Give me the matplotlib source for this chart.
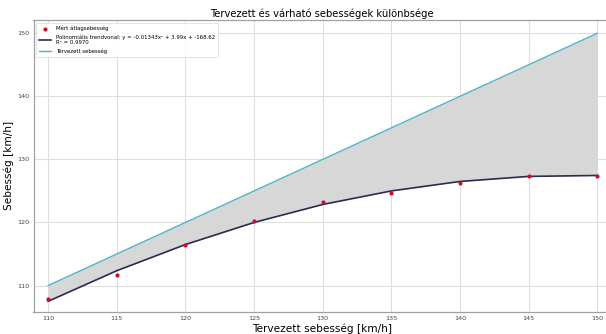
import matplotlib
matplotlib.use("Agg")
import matplotlib.pyplot as plt

planned = [110, 115, 120, 125, 130, 135, 140, 145, 150]
measured = [107.84, 111.6, 116.5, 120.25, 123.3, 124.6, 126.2, 127.3, 127.4]
trend = [107.5, 112.35, 116.5, 120.0, 122.85, 125.0, 126.5, 127.3, 127.45]
xticks = [110, 115, 120, 125, 130, 135, 140, 145, 150]
yticks = [110, 120, 130, 140, 150]

title = "Tervezett és várható sebességek különbsége"
xlabel = "Tervezett sebesség [km/h]"
ylabel = "Sebesség [km/h]"
lab_meas = "Mért átlagsebesség"
lab_trend = "Polinomiális trendvonal: y = -0.01343x² + 3.99x + -168.62\nR² = 0.9970"
lab_plan = "Tervezett sebesség"

fig = plt.figure(figsize=(6.06, 3.34), dpi=100)
ax = fig.add_axes([33.5 / 606, 1 - 311.5 / 334, (611 - 33.5) / 606, (311.5 - 20) / 334])

ax.fill_between(planned, trend, planned, color="#d7d7d7", zorder=1, linewidth=0)
ax.scatter(planned, measured, color="#c8102e", s=9, zorder=4, label=lab_meas, linewidths=0)
ax.plot(planned, trend, color="#2b2d4e", lw=1.2, zorder=3, label=lab_trend)
ax.plot(planned, planned, color="#4eb3c9", lw=1.0, zorder=3, label=lab_plan)

ax.set_xlim(108.93, 151.0)
ax.set_ylim(105.88, 152.1)
ax.set_xticks(xticks)
ax.set_yticks(yticks)
ax.grid(True, color="#dedede", lw=0.8, zorder=0)
ax.set_axisbelow(True)
for s in ax.spines.values():
    s.set_color("#a0a0a0")
    s.set_linewidth(0.9)
ax.tick_params(labelsize=4.6, length=0, pad=3)
for lbl in ax.get_xticklabels() + ax.get_yticklabels():
    lbl.set_color("#444444")

ax.set_title(title, fontsize=7.2, pad=2.5)
ax.set_xlabel(xlabel, fontsize=7.6, labelpad=2)
ax.set_ylabel(ylabel, fontsize=7.6, labelpad=2)

leg = ax.legend(loc="upper left", fontsize=3.9, frameon=True, framealpha=0.9,
                edgecolor="#dddddd", borderpad=0.6, handlelength=2.2, labelspacing=0.5)
leg.get_frame().set_linewidth(0.6)

fig.savefig("out.png", dpi=100)
